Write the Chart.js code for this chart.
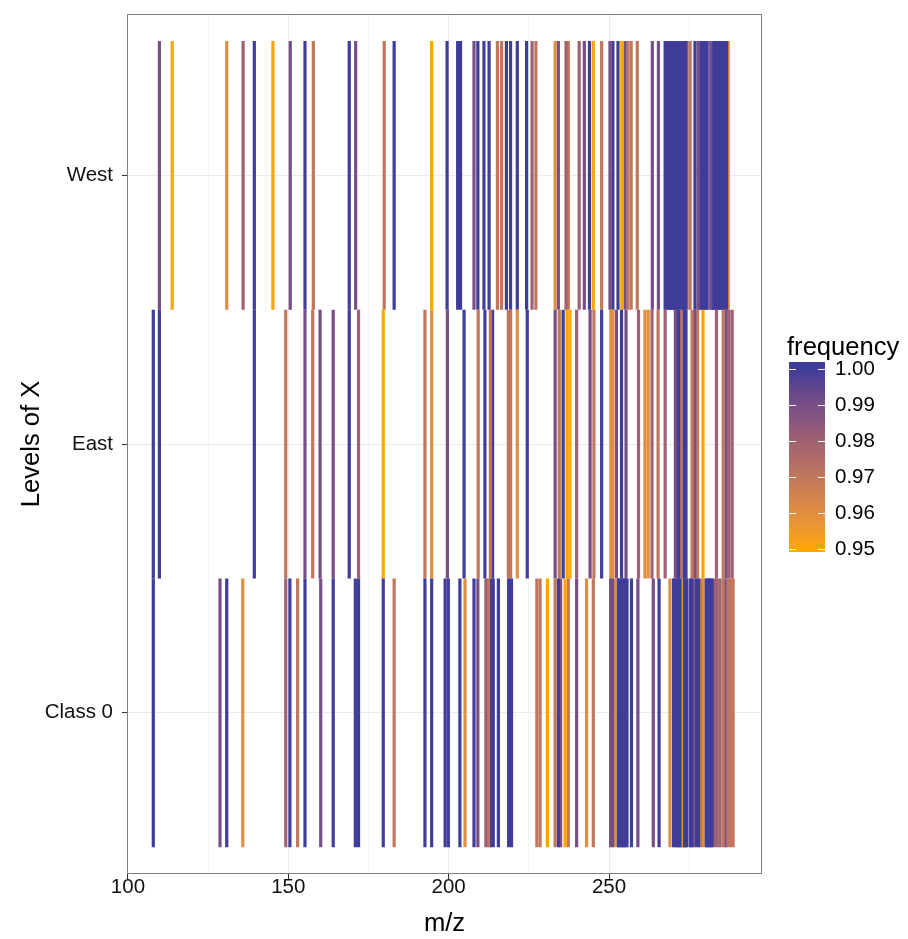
<!DOCTYPE html>
<html>
<head>
<meta charset="utf-8">
<script src="https://cdn.jsdelivr.net/npm/chart.js@4/dist/chart.umd.min.js"></script>
<style>
html,body{margin:0;padding:0;background:#fff;}
#wrap{width:908px;height:939px;}
</style>
</head>
<body>
<div id="wrap"><canvas id="c" width="908" height="939"></canvas></div>
<script>
// ---------------- data ----------------
const categories = ['Class 0', 'East', 'West'];
const xTickValues = [100, 125, 150, 175, 200, 225, 250, 275];
const legendTicks = [1.00, 0.99, 0.98, 0.97, 0.96, 0.95];

const westMz = [109.8,113.8,130.8,135.9,139.4,145.2,150.6,155.2,157.8,169.0,171.0,179.9,183.0,194.7,199.5,
  202.8,203.7,207.9,209.1,211.0,212.6,215.2,216.5,218.0,219.3,221.4,224.3,226.0,227.2,233.2,234.2,236.6,237.3,
  240.7,242.3,243.9,245.1,247.7,250.3,251.2,252.8,254.0,255.0,255.9,256.9,258.8,263.5,265.4,267.5,268.2,268.7,
  269.1,269.6,270.1,270.6,271.0,271.5,272.0,272.5,273.0,273.4,273.9,274.3,275.3,276.8,277.8,278.2,278.7,279.1,
  279.6,280.1,280.6,281.7,282.0,282.4,282.9,283.4,283.8,284.3,284.8,285.2,285.7,286.2,286.7,287.2];
const westFreq = [0.99,0.95,0.96,0.98,1.00,0.95,0.99,1.00,0.97,1.00,0.99,0.97,1.00,0.95,1.00,
  1.00,1.00,0.99,1.00,1.00,1.00,0.97,0.97,1.00,1.00,1.00,1.00,0.98,0.97,0.96,0.99,0.98,0.97,
  0.98,0.99,1.00,0.95,0.97,0.99,1.00,1.00,0.95,0.99,0.97,0.97,0.97,0.99,0.99,1.00,1.00,1.00,
  1.00,1.00,1.00,1.00,1.00,1.00,1.00,1.00,1.00,1.00,1.00,0.98,0.97,1.00,0.99,1.00,1.00,1.00,
  1.00,1.00,1.00,0.99,1.00,1.00,1.00,1.00,1.00,1.00,1.00,1.00,1.00,1.00,1.00,0.95];

const eastMz = [107.9,109.8,139.4,149.2,155.2,157.6,159.9,164.0,169.0,171.9,179.6,192.6,194.7,199.6,
  204.8,209.2,211.3,213.0,213.7,218.6,219.3,221.4,224.5,233.2,234.5,235.7,236.9,237.8,239.9,244.1,245.3,
  247.7,250.6,251.2,252.3,253.9,255.3,259.2,261.2,262.2,263.4,265.3,267.5,270.7,271.7,272.5,273.2,274.0,
  275.9,276.7,277.6,279.3,283.5,285.6,286.5,287.4,288.4];
const eastFreq = [1.00,1.00,1.00,0.97,0.99,0.97,0.99,0.99,1.00,0.98,0.95,0.97,0.96,0.99,
  1.00,0.97,1.00,0.97,1.00,0.97,0.97,0.96,1.00,0.99,0.97,1.00,0.95,0.95,0.98,0.99,0.97,
  1.00,0.96,0.96,0.99,1.00,0.99,0.98,0.96,0.96,0.98,0.97,0.98,0.99,1.00,0.97,1.00,1.00,
  0.97,0.99,0.97,0.95,0.98,0.97,0.99,0.98,0.98];

const classMz = [107.9,128.7,130.8,135.8,149.2,150.5,152.9,155.2,160.1,164.0,170.9,171.9,179.6,183.0,
  192.6,194.7,198.9,199.9,203.5,205.1,207.9,209.1,211.6,212.4,213.0,213.9,215.5,218.7,219.6,227.5,228.5,
  230.8,233.2,234.2,234.9,236.3,237.3,239.9,243.0,245.1,250.5,251.1,251.9,252.8,253.2,253.7,254.2,254.7,
  255.1,255.6,257.0,259.0,263.8,265.6,269.0,270.1,270.6,271.2,271.7,272.1,272.6,273.0,273.4,273.8,274.2,
  275.3,275.8,276.2,277.1,277.9,278.5,279.3,280.2,280.7,281.2,281.7,282.1,282.9,283.7,284.6,285.6,286.2,
  287.1,287.9,288.7];
const classFreq = [1.00,0.99,1.00,0.96,0.98,1.00,0.97,1.00,0.99,1.00,1.00,1.00,1.00,0.97,
  1.00,1.00,1.00,1.00,1.00,0.96,1.00,0.99,0.98,0.97,1.00,1.00,1.00,1.00,1.00,0.97,0.97,
  0.95,0.97,1.00,0.99,0.95,0.97,0.99,0.96,0.97,0.99,0.99,0.96,1.00,1.00,1.00,1.00,1.00,
  1.00,1.00,1.00,0.99,0.99,1.00,0.96,1.00,1.00,1.00,1.00,1.00,0.96,1.00,1.00,1.00,1.00,
  1.00,1.00,0.99,1.00,1.00,0.97,0.96,1.00,1.00,1.00,1.00,1.00,0.98,0.98,0.98,0.97,0.99,
  0.97,0.97,0.97];

// ---------------- colour scale (Lab interpolation like ggplot) ----------------
const LOW_COL = '#FFA500', HIGH_COL = '#3F3D99';
const F_MIN = 0.95, F_MAX = 1.00;
function hexToRgb(h){h=h.replace('#','');return [0,2,4].map(i=>parseInt(h.substr(i,2),16));}
function s2l(c){c/=255;return c<=0.04045?c/12.92:Math.pow((c+0.055)/1.055,2.4);}
function l2s(c){c=c<=0.0031308?12.92*c:1.055*Math.pow(c,1/2.4)-0.055;return Math.round(Math.max(0,Math.min(1,c))*255);}
function rgbToLab(rgb){
  const [R,G,B]=rgb.map(s2l);
  const X=(0.4124*R+0.3576*G+0.1805*B)/0.95047, Y=(0.2126*R+0.7152*G+0.0722*B), Z=(0.0193*R+0.1192*G+0.9505*B)/1.08883;
  const f=t=>t>0.008856?Math.cbrt(t):7.787*t+16/116;
  const fx=f(X),fy=f(Y),fz=f(Z);
  return [116*fy-16,500*(fx-fy),200*(fy-fz)];
}
function labToRgb(lab){
  const [L,a,b]=lab; const fy=(L+16)/116, fx=fy+a/500, fz=fy-b/200;
  const fi=t=>t*t*t>0.008856?t*t*t:(t-16/116)/7.787;
  const X=fi(fx)*0.95047, Y=fi(fy), Z=fi(fz)*1.08883;
  const R= 3.2406*X-1.5372*Y-0.4986*Z, G=-0.9689*X+1.8758*Y+0.0415*Z, B=0.0557*X-0.2040*Y+1.0570*Z;
  return [l2s(R),l2s(G),l2s(B)];
}
const LAB_LO=rgbToLab(hexToRgb(LOW_COL)), LAB_HI=rgbToLab(hexToRgb(HIGH_COL));
function freqColor(v){
  let t=(v-F_MIN)/(F_MAX-F_MIN); t=Math.max(0,Math.min(1,t));
  const lab=LAB_LO.map((c,i)=>c+(LAB_HI[i]-c)*t);
  const [r,g,b]=labToRgb(lab); return `rgb(${r},${g},${b})`;
}

// ---------------- datasets ----------------
const datasets=[];
function addSeries(mz,freq,catIndex){
  const yc=catIndex+1;
  mz.forEach((x,i)=>{
    datasets.push({data:[{x:x,y:yc-0.5},{x:x,y:yc+0.5}],borderColor:freqColor(freq[i]),
      borderWidth:3.2,pointRadius:0,showLine:true,fill:false,borderCapStyle:'butt'});
  });
}
addSeries(classMz,classFreq,0);
addSeries(eastMz,eastFreq,1);
addSeries(westMz,westFreq,2);

const FONT='"Liberation Sans", Arial, sans-serif';

const panelPlugin={
  id:'panel',
  afterDatasetsDraw(chart){
    const {ctx,chartArea:a}=chart;
    ctx.save();ctx.strokeStyle='#7f7f7f';ctx.lineWidth=1;
    ctx.strokeRect(Math.round(a.left)+0.5,Math.round(a.top)+0.5,Math.round(a.right-a.left)-1,Math.round(a.bottom-a.top)-1);
    ctx.restore();
  },
  afterDraw(chart){
    const ctx=chart.ctx; ctx.save();
    const bx=789,bw=36,top=362,bot=552;
    const yOf=v=>369+(1.00-v)/0.01*36;
    for(let y=top;y<bot;y++){
      const v=1.00-(y+0.5-369)/36*0.01;
      ctx.fillStyle=freqColor(v); ctx.fillRect(bx,y,bw,1);
    }
    ctx.strokeStyle='#ffffff';ctx.lineWidth=1;
    legendTicks.forEach(v=>{
      const y=Math.round(yOf(v))+0.5;
      ctx.beginPath();ctx.moveTo(bx,y);ctx.lineTo(bx+7,y);ctx.moveTo(bx+bw-7,y);ctx.lineTo(bx+bw,y);ctx.stroke();
    });
    ctx.fillStyle='#000';ctx.textBaseline='middle';ctx.textAlign='left';
    ctx.font='20.5px '+FONT;
    legendTicks.forEach(v=>{ctx.fillText(v.toFixed(2),835,yOf(v));});
    ctx.font='25.6px '+FONT;
    ctx.fillText('frequency',787,348);
    ctx.restore();
  }
};

new Chart(document.getElementById('c'),{
  type:'scatter',
  data:{datasets},
  options:{
    responsive:false,animation:false,
    layout:{padding:{left:0,top:14,right:146,bottom:0}},
    plugins:{legend:{display:false},tooltip:{enabled:false}},
    scales:{
      x:{type:'linear',min:99.7,max:297.7,
        afterBuildTicks(s){s.ticks=xTickValues.map(v=>({value:v}));},
        afterFit(s){s.height=65;s.paddingLeft=0;s.paddingRight=0;},
        ticks:{autoSkip:false,maxRotation:0,padding:-2,color:'#111',font:{family:FONT,size:20.5,lineHeight:1},
          callback:v=>(v%50===0?String(v):'')},
        grid:{color:c=>(c.tick&&c.tick.value%50===0?'#ebebeb':'#f5f5f5'),
          tickColor:c=>(c.tick&&c.tick.value%50===0?'#333':'rgba(0,0,0,0)'),tickLength:5,lineWidth:1},
        border:{display:false},
        title:{display:true,text:'m/z',color:'#000',font:{family:FONT,size:25.6},padding:{top:0,bottom:0}}
      },
      y:{type:'linear',min:0.4,max:3.6,
        afterBuildTicks(s){s.ticks=[1,2,3].map(v=>({value:v}));},
        afterFit(s){s.width=127;s.paddingTop=0;s.paddingBottom=0;},
        ticks:{autoSkip:false,padding:9,color:'#111',font:{family:FONT,size:20.5},
          callback:v=>categories[Math.round(v)-1]},
        grid:{color:'#ebebeb',tickColor:'#333',tickLength:5,lineWidth:1},
        border:{display:false},
        title:{display:true,text:'Levels of X',color:'#000',font:{family:FONT,size:25.6},padding:{top:17,bottom:0}}
      }
    }
  },
  plugins:[panelPlugin]
});
</script>
</body>
</html>
